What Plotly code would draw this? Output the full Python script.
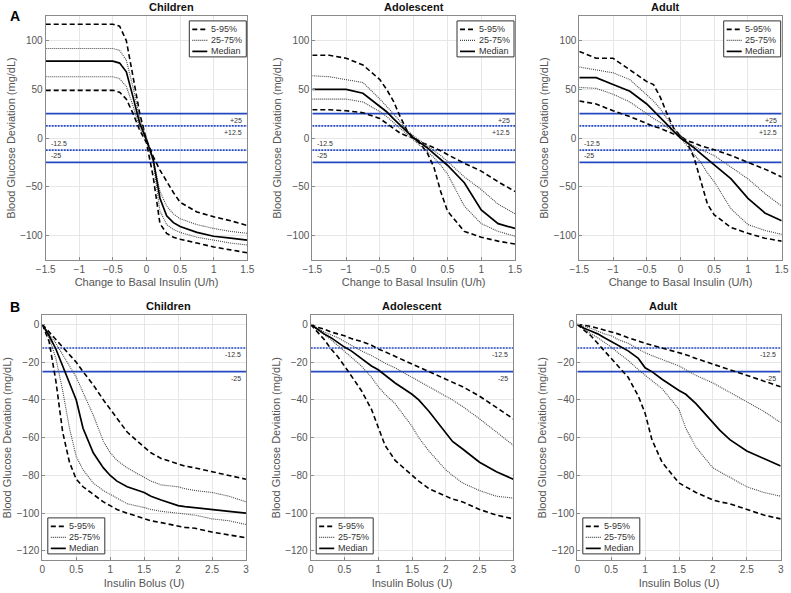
import plotly.graph_objects as go

# ---------------- data ----------------
basal_x = [-1.5, -1.25, -1.0, -0.75, -0.5, -0.4, -0.3, -0.2, -0.1, 0, 0.1, 0.2, 0.3, 0.4, 0.5, 0.75, 1.0, 1.25, 1.5]

children_basal_p95 = [117, 117, 117, 117, 117, 115, 100, 63, 25, -2, -19, -33, -45, -56, -66, -76, -81, -85, -90]
children_basal_p75 = [92, 92, 92, 92, 92, 90, 80, 52, 20, 0, -22, -55, -70, -78, -83, -89, -93, -96, -98]
children_basal_med = [79, 79, 79, 79, 79, 77, 68, 42, 15, -2, -22, -62, -80, -87, -91, -97, -101, -103, -105]
children_basal_p25 = [63, 63, 63, 63, 63, 61, 53, 33, 10, -3, -25, -75, -89, -94, -97, -102, -105, -108, -110]
children_basal_p5 = [49, 49, 49, 49, 49, 47, 40, 25, 8, -5, -40, -88, -98, -102, -104, -108, -112, -115, -118]

adolescent_basal_p95 = [85, 85, 82, 75, 60, 50, 38, 22, 8, 0, -4, -7, -10, -13, -17, -26, -34, -45, -55]
adolescent_basal_p75 = [64, 63, 60, 57, 40, 33, 25, 17, 8, 2, -3, -8, -13, -18, -24, -40, -53, -68, -78]
adolescent_basal_med = [50, 50, 50, 46, 33, 27, 20, 13, 6, 0, -5, -10, -16, -22, -28, -46, -74, -88, -93]
adolescent_basal_p25 = [40, 40, 40, 37, 27, 22, 16, 10, 4, -2, -7, -13, -20, -28, -37, -70, -88, -96, -101]
adolescent_basal_p5 = [29, 29, 28, 26, 20, 15, 10, 5, 2, 0, -6, -15, -30, -55, -75, -96, -102, -106, -109]

adult_basal_p95 = [89, 82, 82, 70, 58, 55, 42, 25, 10, 2, -3, -5, -8, -10, -12, -18, -25, -32, -40]
adult_basal_p75 = [73, 70, 67, 60, 45, 38, 30, 20, 10, 2, -4, -8, -12, -15, -18, -30, -42, -57, -70]
adult_basal_med = [62, 62, 55, 48, 35, 28, 21, 14, 7, 0, -5, -10, -16, -22, -28, -42, -62, -77, -85]
adult_basal_p25 = [52, 51, 45, 37, 25, 20, 16, 11, 6, 0, -8, -16, -25, -36, -45, -73, -89, -95, -99]
adult_basal_p5 = [38, 35, 28, 22, 15, 12, 10, 7, 4, 2, -5, -20, -45, -68, -79, -92, -98, -103, -106]

bolus_x = [0, 0.1, 0.2, 0.3, 0.4, 0.5, 0.6, 0.75, 0.9, 1.0, 1.1, 1.25, 1.5, 1.6, 1.75, 2.0, 2.1, 2.25, 2.5, 2.75, 3.0]

children_bolus_p95 = [0, -4, -8, -12, -16, -20, -25, -32, -40, -45, -50, -57, -65, -68, -71, -74, -75, -76, -78, -80, -82]
children_bolus_p75 = [0, -5, -10, -16, -22, -28, -36, -48, -62, -68, -72, -76, -81, -83, -85, -86, -87, -88, -89, -91, -94]
children_bolus_med = [0, -6, -13, -22, -31, -40, -55, -68, -76, -80, -83, -86, -89, -91, -93, -96, -96.5, -97, -98, -99, -100]
children_bolus_p25 = [0, -7, -18, -35, -55, -70, -77, -84, -88, -90, -92, -95, -97, -98, -99, -100, -100.5, -101, -103, -104, -106]
children_bolus_p5 = [0, -9, -30, -57, -73, -82, -86, -90, -94, -96, -98, -100, -103, -104, -105, -107, -107.5, -108, -110, -111.5, -113]

adolescent_bolus_p95 = [0, -1.5, -2.5, -4, -5, -6, -7.5, -9, -11, -13, -14.5, -17, -21, -22.5, -25, -29, -30.5, -33, -38, -44, -50]
adolescent_bolus_p75 = [0, -2, -4, -5.5, -7, -9, -11, -14, -16.5, -18.5, -20.5, -23, -28, -30, -33, -38, -40, -43.5, -50, -57, -64]
adolescent_bolus_med = [0, -2.5, -5, -7, -9.5, -12, -14, -18, -22, -24, -27, -31, -37, -40, -46, -57, -62, -66, -73, -78, -82]
adolescent_bolus_p25 = [0, -3, -5.5, -8, -11, -14, -17, -22, -28, -33, -37, -42, -54, -60, -67, -77, -80, -84, -88, -91, -92]
adolescent_bolus_p5 = [0, -4, -8, -13, -17, -22, -27, -35, -45, -54, -64, -72, -80, -83, -87, -91, -92.5, -94, -98, -101, -103]

adult_bolus_p95 = [0, -0.5, -1, -2, -3, -4, -5, -7, -9, -10, -11, -12.5, -15, -16, -18, -21, -22, -24, -27, -30, -33]
adult_bolus_p75 = [0, -1, -2, -3.5, -5, -6, -8, -10, -13, -15, -16.5, -18.5, -22, -24, -27, -31, -33, -36, -41, -46, -52]
adult_bolus_med = [0, -2, -3.5, -5, -7, -9, -11, -14, -18, -23, -25, -29, -35, -37, -42, -52, -56, -61, -67, -71, -75]
adult_bolus_p25 = [0, -2.5, -5, -7, -9.5, -12, -15, -19, -24, -27, -30, -34, -45, -55, -65, -76, -78, -81, -86, -89, -91]
adult_bolus_p5 = [0, -3, -6, -10, -14, -18, -22, -28, -38, -47, -61, -73, -84, -86, -89, -93, -94, -95, -98, -101, -103]

group_titles = ["Children", "Adolescent", "Adult"]
basal_levels = [25, 12.5, -12.5, -25]
basal_level_labels = ["+25", "+12.5", "-12.5", "-25"]
bolus_levels = [-12.5, -25]
bolus_level_labels = ["-12.5", "-25"]
legend_names = ["5-95%", "25-75%", "Median"]

# ---------------- styling ----------------
W, H = 791, 593
BLUE = "#2448c0"
FONT = "Liberation Sans, Arial, sans-serif"

def px_x(p):
    return p / W

def px_y(p):
    return 1 - p / H

top_dom_x = [(45.7, 247.3), (312.3, 515.0), (579.3, 781.7)]
bot_dom_x = [(42.3, 246.0), (310.7, 513.3), (577.3, 780.7)]
top_dom_y = (16.4, 259.6)
bot_dom_y = (315.0, 560.4)

panels = [
    ("top", basal_x, [children_basal_p95, children_basal_p5, children_basal_p75, children_basal_p25, children_basal_med]),
    ("top", basal_x, [adolescent_basal_p95, adolescent_basal_p5, adolescent_basal_p75, adolescent_basal_p25, adolescent_basal_med]),
    ("top", basal_x, [adult_basal_p95, adult_basal_p5, adult_basal_p75, adult_basal_p25, adult_basal_med]),
    ("bot", bolus_x, [children_bolus_p95, children_bolus_p5, children_bolus_p75, children_bolus_p25, children_bolus_med]),
    ("bot", bolus_x, [adolescent_bolus_p95, adolescent_bolus_p5, adolescent_bolus_p75, adolescent_bolus_p25, adolescent_bolus_med]),
    ("bot", bolus_x, [adult_bolus_p95, adult_bolus_p5, adult_bolus_p75, adult_bolus_p25, adult_bolus_med]),
]

dash_style = dict(color="black", width=1.6, dash="5px,3px")
dot_style = dict(color="#444444", width=1.1, dash="1px,1px")
med_style = dict(color="black", width=1.7)
styles = [dash_style, dash_style, dot_style, dot_style, med_style]
style_names = [legend_names[0], legend_names[0], legend_names[1], legend_names[1], legend_names[2]]
legend_styles = [dash_style, dot_style, med_style]

fig = go.Figure()
layout = dict(
    width=W, height=H, autosize=False,
    margin=dict(l=0, r=0, t=0, b=0, pad=0, autoexpand=False),
    paper_bgcolor="white", plot_bgcolor="white",
    font=dict(family=FONT, size=10, color="#555555"),
    showlegend=False,
    annotations=[], shapes=[],
)

LEG_W, LEG_H = 57, 36

for i, (row, xs, curves) in enumerate(panels):
    n = i + 1
    xa = "x" if n == 1 else f"x{n}"
    ya = "y" if n == 1 else f"y{n}"
    if row == "top":
        levels, labels = basal_levels, basal_level_labels
    else:
        levels, labels = bolus_levels, bolus_level_labels
    for lv, lb in zip(levels, labels):
        solid = abs(lv) == 25
        fig.add_trace(go.Scatter(
            x=[xs[0], xs[-1]], y=[lv, lv], mode="lines", xaxis=xa, yaxis=ya,
            line=dict(color=BLUE, width=1.8 if solid else 1.6, dash=None if solid else "2px,1px"),
            showlegend=False, hoverinfo="skip"))
        right = (lv > 0) or row == "bot"
        layout["annotations"].append(dict(
            x=xs[-1] if right else xs[0], y=lv, xref=xa, yref=ya,
            text=lb, showarrow=False, xanchor="right" if right else "left",
            yanchor="top" if right else "bottom", xshift=-3 if right else 3,
            yshift=-1 if right else 1,
            font=dict(size=7, color="#333333", family=FONT)))
    for c, st, nm in zip(curves, styles, style_names):
        fig.add_trace(go.Scatter(
            x=xs, y=c, mode="lines", xaxis=xa, yaxis=ya, name=nm,
            line=st, showlegend=False))
    if row == "top":
        dx = top_dom_x[i]
        dy = top_dom_y
        xr, yr = [-1.5, 1.5], [-125, 125]
        xt = "Change to Basal Insulin (U/h)"
        xdt, ydt = 0.5, 50
    else:
        dx = bot_dom_x[i - 3]
        dy = bot_dom_y
        xr, yr = [0, 3], [-125, 5]
        xt = "Insulin Bolus (U)"
        xdt, ydt = 0.5, 20
    common = dict(showgrid=True, gridcolor="#e6e6e6", gridwidth=1, zeroline=False,
                  showline=True, linecolor="#8a8a8a", linewidth=1, mirror=True,
                  ticks="inside", ticklen=3, tickcolor="#8a8a8a", automargin=False,
                  tickfont=dict(size=10, color="#555555", family=FONT))
    layout["xaxis" if n == 1 else f"xaxis{n}"] = dict(
        common, domain=[px_x(dx[0]), px_x(dx[1])], range=xr, dtick=xdt, tick0=0,
        anchor=ya,
        title=dict(text=xt, standoff=4, font=dict(size=11, color="#555555", family=FONT)))
    layout["yaxis" if n == 1 else f"yaxis{n}"] = dict(
        common, domain=[px_y(dy[1]), px_y(dy[0])], range=yr, dtick=ydt, tick0=0,
        anchor=xa,
        title=dict(text="Blood Glucose Deviation (mg/dL)", standoff=2,
                   font=dict(size=11, color="#555555", family=FONT)))
    layout["annotations"].append(dict(
        x=(px_x(dx[0]) + px_x(dx[1])) / 2, y=px_y(dy[0]), xref="paper", yref="paper",
        text=f"<b>{group_titles[i % 3]}</b>", showarrow=False, yanchor="bottom", yshift=1,
        font=dict(size=11, color="#111111", family=FONT)))
    # legend box (drawn in pixel space of the panel)
    if row == "top":
        lx0 = dx[1] - 1 - LEG_W
        ly0 = dy[0] + 4.5
    else:
        lx0 = dx[0] + 5.5
        ly0 = dy[1] - 6.5 - LEG_H
    layout["shapes"].append(dict(type="rect", xref="paper", yref="paper",
                                 x0=px_x(lx0), x1=px_x(lx0 + LEG_W),
                                 y0=px_y(ly0 + LEG_H), y1=px_y(ly0),
                                 line=dict(color="#333333", width=1), fillcolor="white", layer="above"))
    for k, (nm, st) in enumerate(zip(legend_names, legend_styles)):
        yy = ly0 + 8.5 + k * 11
        layout["shapes"].append(dict(type="line", xref="paper", yref="paper",
                                     x0=px_x(lx0 + 3), x1=px_x(lx0 + 18), y0=px_y(yy), y1=px_y(yy),
                                     line=st, layer="above"))
        layout["annotations"].append(dict(x=px_x(lx0 + 19.5), y=px_y(yy), xref="paper", yref="paper",
                                          text=nm, showarrow=False, xanchor="left", yanchor="middle",
                                          font=dict(size=9, color="#333333", family=FONT)))

layout["annotations"].append(dict(x=px_x(8), y=px_y(16), xref="paper", yref="paper", text="<b>A</b>",
                                  showarrow=False, xanchor="left", yanchor="middle",
                                  font=dict(size=14, color="black", family=FONT)))
layout["annotations"].append(dict(x=px_x(8), y=px_y(307), xref="paper", yref="paper", text="<b>B</b>",
                                  showarrow=False, xanchor="left", yanchor="middle",
                                  font=dict(size=14, color="black", family=FONT)))

fig.update_layout(**layout)
fig.write_html("out.html", config={"responsive": False, "displayModeBar": False},
               post_script="document.body.style.margin='0px';document.body.style.overflow='hidden';")
